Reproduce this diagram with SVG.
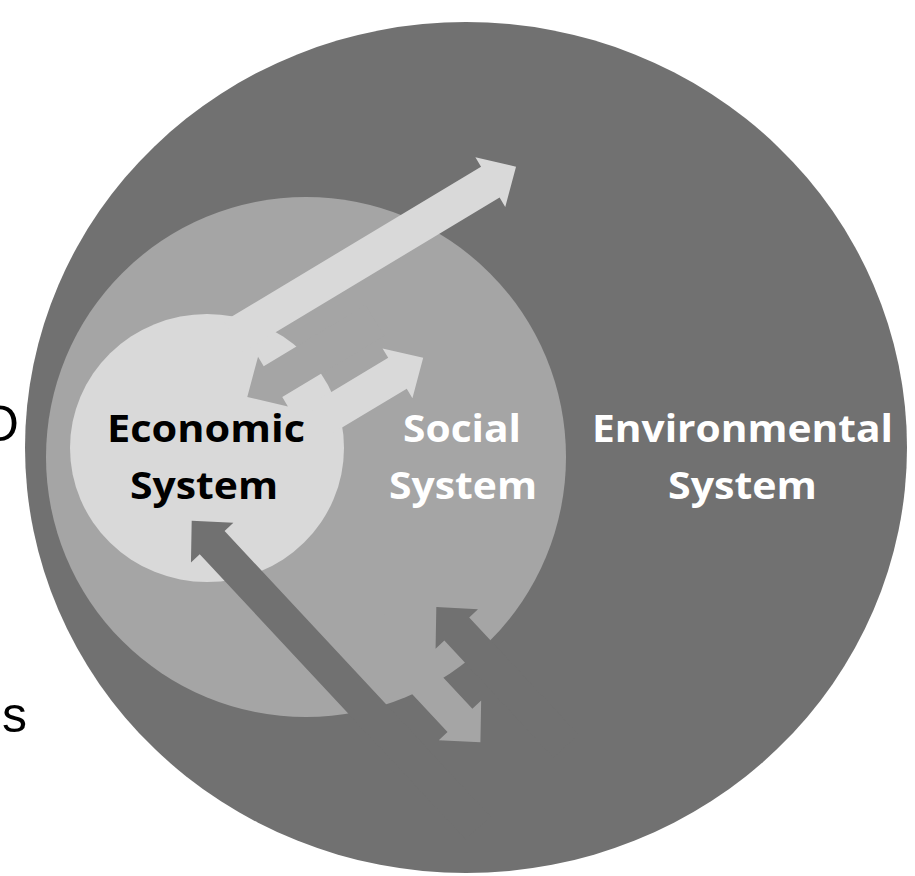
<svg xmlns="http://www.w3.org/2000/svg" width="915" height="876" viewBox="0 0 915 876">
  <style>
    .lbl { font-family: "Open Sans", "Noto Sans", "Liberation Sans", sans-serif; font-weight: bold; font-size: 38px; text-anchor: middle; }
    .dark { fill: #000000; }
    .light { fill: #ffffff; }
    .side { font-family: "Liberation Sans", Arial, sans-serif; font-size: 50px; fill: #000000; }
    .env { fill: #717171; }
    .soc { fill: #a5a5a5; }
    .eco { fill: #d9d9d9; }
  </style>
  <rect x="0" y="0" width="915" height="876" fill="#ffffff"/>
  <text class="side" x="-20" y="441">O</text>
  <text class="side" x="2" y="732">s</text>

  <g id="environmental-system">
    <ellipse class="env" cx="466" cy="447.5" rx="441" ry="425.5"/>
  </g>
  <g id="social-system">
    <circle class="soc" cx="306" cy="457" r="260"/>
  </g>
  <g id="economic-system">
    <ellipse class="eco" cx="207" cy="448" rx="137" ry="134"/>
  </g>

  <g id="connectors">
    <g transform="translate(515 165) rotate(-31)">
      <polygon id="eco-to-env" class="eco" points="-330,-16 -30,-16 -30,-27 0,2 -30,31 -30,20 -330,20"/>
      <polygon id="soc-to-eco" class="soc" points="-349,61 -319,32 -319,43 -200,43 -200,79 -319,79 -319,90"/>
      <polygon id="eco-to-soc" class="eco" points="-300,100 -208,100 -208,89 -178,118 -208,147 -208,136 -300,136"/>
    </g>
    <g transform="translate(191.7 520.7) rotate(47)">
      <polygon id="env-to-eco" class="env" points="0,0 30,-29 30,-17 420,-17 420,17 30,17 30,29"/>
      <polygon id="soc-to-env" class="soc" points="200,-77 329,-77 329,-89 359,-60 329,-31 329,-43 200,-43"/>
      <polygon id="env-to-soc" class="env" points="230,-120 260,-149 260,-137 420,-137 420,-103 260,-103 260,-91"/>
    </g>
  </g>

  <g id="labels">
    <text class="lbl dark" x="206" y="442" textLength="198" lengthAdjust="spacingAndGlyphs">Economic</text>
    <text class="lbl dark" x="204" y="499" textLength="148" lengthAdjust="spacingAndGlyphs">System</text>
    <text class="lbl light" x="462" y="442" textLength="118" lengthAdjust="spacingAndGlyphs">Social</text>
    <text class="lbl light" x="463" y="499" textLength="148" lengthAdjust="spacingAndGlyphs">System</text>
    <text class="lbl light" x="742.5" y="442" textLength="301" lengthAdjust="spacingAndGlyphs">Environmental</text>
    <text class="lbl light" x="742.5" y="499" textLength="149" lengthAdjust="spacingAndGlyphs">System</text>
  </g>
</svg>
